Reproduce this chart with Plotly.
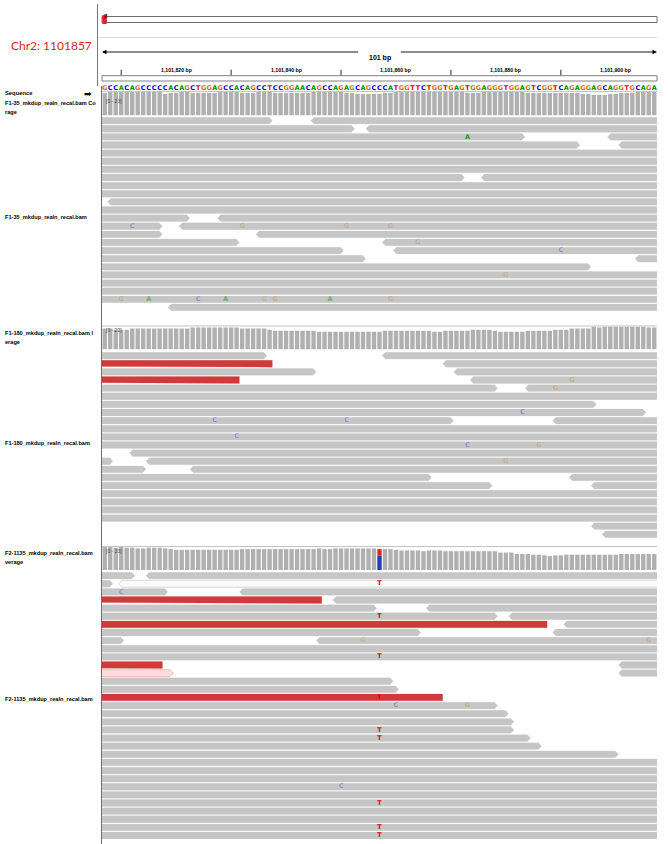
import plotly.graph_objects as go

# ---------------- data ----------------
LOCUS_LABEL = "Chr2: 1101857"
CHROM_NAME = "2"
CHR_LEN = 242193529
LOCUS = 1101857
VIEW_START = 1101807
VIEW_END = 1101907
REF_SEQ = ("GCCACAGCCCCCACAGCTGGAGCCACAGCCTCCGGAACAGCC"
           "AGAGCAGCCCATGGTTCTGGTGAGTGGAGGGTGGAGTCGGTCAGAGGAGCAGGTGCAG"
           "A")
RULER_LABELS = [1101820, 1101840, 1101860, 1101880, 1101900]
RULER_TICKS = [1101810, 1101830, 1101850, 1101870, 1101890]

TRACK_NAMES = ["F1-35_mkdup_realn_recal.bam",
               "F1-180_mkdup_realn_recal.bam",
               "F2-1135_mkdup_realn_recal.bam"]
COV_NAMES = [("F1-35_mkdup_realn_recal.bam Co", "rage"),
             ("F1-180_mkdup_realn_recal.bam I", "erage"),
             ("F2-1135_mkdup_realn_recal.bam", "verage")]

# reads: (row, start, end, strand, kind)  kind: g=gray, r=red (insert), w=MAPQ0, p=MAPQ0 red
F1_35_READS = [
    (0, 1101688, 1101837, '+', 'g'), (0, 1101845, 1101994, '-', 'g'),
    (1, 1101703, 1101852, '+', 'g'), (1, 1101855, 1102004, '-', 'g'),
    (2, 1101734, 1101883, '+', 'g'), (2, 1101899, 1102048, '-', 'g'),
    (3, 1101744, 1101893, '+', 'g'), (3, 1101901, 1102050, '-', 'g'),
    (4, 1101781, 1101930, '+', 'g'),
    (5, 1101770, 1101919, '-', 'g'),
    (6, 1101795, 1101944, '+', 'g'),
    (7, 1101723, 1101872, '+', 'g'), (7, 1101876, 1102025, '-', 'g'),
    (8, 1101762, 1101911, '-', 'g'),
    (9, 1101799, 1101948, '+', 'g'),
    (10, 1101808, 1101957, '-', 'g'),
    (11, 1101785, 1101934, '+', 'g'),
    (12, 1101673, 1101822, '+', 'g'), (12, 1101828, 1101977, '-', 'g'),
    (13, 1101668, 1101817, '+', 'g'), (13, 1101821, 1101970, '-', 'g'),
    (14, 1101668, 1101817, '+', 'g'), (14, 1101835, 1101984, '-', 'g'),
    (15, 1101682, 1101831, '+', 'g'), (15, 1101858, 1102007, '-', 'g'),
    (16, 1101701, 1101850, '+', 'g'), (16, 1101860, 1102009, '-', 'g'),
    (17, 1101705, 1101854, '+', 'g'), (17, 1101904, 1102053, '-', 'g'),
    (18, 1101746, 1101895, '+', 'g'),
    (19, 1101777, 1101926, '-', 'g'),
    (20, 1101790, 1101939, '+', 'g'),
    (21, 1101766, 1101915, '-', 'g'),
    (22, 1101801, 1101950, '+', 'g'),
    (23, 1101819, 1101968, '-', 'g'),
]
# mismatches: (row, position, base, base quality)
F1_35_MISMATCH = [
    (2, 1101873, 'A', 34), (13, 1101812, 'C', 12), (13, 1101832, 'G', 12),
    (13, 1101851, 'G', 12), (13, 1101859, 'G', 12), (15, 1101864, 'G', 12),
    (16, 1101890, 'C', 12), (19, 1101880, 'G', 12), (22, 1101810, 'G', 12),
    (22, 1101815, 'A', 20), (22, 1101824, 'C', 10), (22, 1101829, 'A', 20),
    (22, 1101836, 'G', 12), (22, 1101838, 'G', 12), (22, 1101848, 'A', 20),
    (22, 1101859, 'G', 12),
]

F1_180_READS = [
    (0, 1101687, 1101836, '+', 'g'), (0, 1101858, 1102007, '-', 'g'),
    (1, 1101688, 1101837, '-', 'r'), (1, 1101869, 1102018, '-', 'g'),
    (2, 1101696, 1101845, '+', 'g'), (2, 1101871, 1102020, '-', 'g'),
    (3, 1101682, 1101831, '-', 'r'), (3, 1101874, 1102023, '-', 'g'),
    (4, 1101729, 1101878, '+', 'g'), (4, 1101884, 1102033, '-', 'g'),
    (5, 1101783, 1101932, '+', 'g'),
    (6, 1101747, 1101896, '+', 'g'),
    (7, 1101756, 1101905, '+', 'g'),
    (8, 1101721, 1101870, '+', 'g'), (8, 1101889, 1102038, '-', 'g'),
    (9, 1101772, 1101921, '-', 'g'),
    (10, 1101791, 1101940, '+', 'g'),
    (11, 1101768, 1101917, '-', 'g'),
    (12, 1101812, 1101961, '-', 'g'),
    (13, 1101659, 1101808, '+', 'g'), (13, 1101815, 1101964, '-', 'g'),
    (14, 1101665, 1101814, '+', 'g'), (14, 1101823, 1101972, '-', 'g'),
    (15, 1101717, 1101866, '+', 'g'), (15, 1101892, 1102041, '-', 'g'),
    (16, 1101728, 1101877, '+', 'g'), (16, 1101896, 1102045, '-', 'g'),
    (17, 1101780, 1101929, '+', 'g'),
    (18, 1101764, 1101913, '-', 'g'),
    (19, 1101797, 1101946, '+', 'g'),
    (20, 1101775, 1101924, '-', 'g'),
    (21, 1101896, 1102045, '-', 'g'),
    (22, 1101898, 1102047, '-', 'g'),
]
F1_180_MISMATCH = [
    (3, 1101892, 'G', 12), (4, 1101889, 'G', 12), (7, 1101883, 'C', 12),
    (8, 1101827, 'C', 12), (8, 1101851, 'C', 12), (10, 1101831, 'C', 12),
    (11, 1101873, 'C', 12), (11, 1101886, 'G', 12), (13, 1101880, 'G', 12),
]

F2_1135_READS = [
    (0, 1101663, 1101812, '+', 'g'), (0, 1101815, 1101964, '-', 'g'),
    (1, 1101659, 1101808, '+', 'g'), (1, 1101810, 1101959, '-', 'w'),
    (2, 1101669, 1101818, '+', 'g'), (2, 1101832, 1101981, '-', 'g'),
    (3, 1101697, 1101846, '-', 'r'), (3, 1101849, 1101998, '-', 'g'),
    (4, 1101707, 1101856, '+', 'g'), (4, 1101866, 1102015, '-', 'g'),
    (5, 1101729, 1101878, '+', 'g'), (5, 1101881, 1102030, '-', 'g'),
    (6, 1101738, 1101887, '-', 'r'), (6, 1101891, 1102040, '-', 'g'),
    (7, 1101715, 1101864, '+', 'g'), (7, 1101889, 1102038, '-', 'g'),
    (8, 1101661, 1101810, '+', 'g'), (8, 1101846, 1101995, '-', 'g'),
    (9, 1101779, 1101928, '+', 'g'),
    (10, 1101788, 1101937, '-', 'g'),
    (11, 1101668, 1101817, '-', 'r'), (11, 1101901, 1102050, '-', 'g'),
    (12, 1101670, 1101819, '+', 'p'), (12, 1101901, 1102050, '-', 'g'),
    (13, 1101710, 1101859, '+', 'g'),
    (14, 1101711, 1101860, '+', 'g'),
    (15, 1101719, 1101868, '-', 'r'),
    (16, 1101729, 1101878, '+', 'g'),
    (17, 1101731, 1101880, '+', 'g'),
    (18, 1101732, 1101881, '+', 'g'),
    (19, 1101732, 1101881, '+', 'g'),
    (20, 1101735, 1101884, '+', 'g'),
    (21, 1101737, 1101886, '+', 'g'),
    (22, 1101751, 1101900, '+', 'g'),
    (23, 1101770, 1101919, '-', 'g'),
    (24, 1101784, 1101933, '+', 'g'),
    (25, 1101762, 1101911, '-', 'g'),
    (26, 1101793, 1101942, '+', 'g'),
    (27, 1101776, 1101925, '-', 'g'),
    (28, 1101798, 1101947, '+', 'g'),
    (29, 1101767, 1101916, '-', 'g'),
    (30, 1101786, 1101935, '+', 'g'),
    (31, 1101773, 1101922, '-', 'g'),
    (32, 1101795, 1101944, '+', 'g'),
]
F2_1135_MISMATCH = [
    (1, 1101857, 'T', 40), (5, 1101857, 'T', 40), (10, 1101857, 'T', 40),
    (15, 1101857, 'T', 40), (19, 1101857, 'T', 40), (20, 1101857, 'T', 40),
    (28, 1101857, 'T', 40), (31, 1101857, 'T', 40), (32, 1101857, 'T', 40),
    (2, 1101810, 'C', 10), (8, 1101854, 'G', 12), (8, 1101906, 'G', 12),
    (16, 1101860, 'C', 12), (16, 1101873, 'G', 12), (26, 1101850, 'C', 12),
]

# ---------------- styling / layout constants ----------------
FIG_W, FIG_H = 669, 844
X0_PX, X1_PX = 102, 657
ROW_PX = 8.12
READ_TOP_PX = [116.6, 351.6, 571.6]
COV_BOX_PX = [(92.0, 115.5), (326.5, 349.5), (547.0, 570.0)]
READ_STYLE = {
    'g': ('rgb(198,198,198)', None),
    'r': ('rgb(207,58,58)', None),
    'w': ('rgb(250,250,250)', 'rgb(200,200,200)'),
    'p': ('rgb(249,222,222)', 'rgb(232,170,170)'),
}
BASE_RGB = {'A': (0, 150, 0), 'C': (0, 0, 230), 'G': (209, 113, 5), 'T': (235, 0, 0)}
COV_GRAY = 'rgb(176,176,176)'
COV_BASE = {'A': 'rgb(0,150,0)', 'C': 'rgb(35,65,175)', 'G': 'rgb(209,113,5)', 'T': 'rgb(228,38,38)'}
LABEL_FONT = "Liberation Sans"


def pyf(y):
    return 1 - y / FIG_H


def pxf(x):
    return x / FIG_W


def dom(top, bottom):
    return [pyf(bottom), pyf(top)]


def mm_color(base, q):
    a = max(0.3, min(1.0, q / 40.0))
    r, g, b = BASE_RGB[base]
    return f'rgba({r},{g},{b},{a:.2f})'


fig = go.Figure()
layout = dict(
    width=FIG_W, height=FIG_H, margin=dict(l=0, r=0, t=0, b=0),
    paper_bgcolor='white', plot_bgcolor='white', showlegend=False,
    barmode='overlay',
    xaxis=dict(domain=[pxf(X0_PX), pxf(X1_PX)],
               range=[VIEW_START - 0.5, VIEW_END + 0.5],
               visible=False, fixedrange=True),
)
annotations = []
shapes = []

panels = [(F1_35_READS, F1_35_MISMATCH), (F1_180_READS, F1_180_MISMATCH),
          (F2_1135_READS, F2_1135_MISMATCH)]
HALF = 0.42
TIP = 0.6
positions = list(range(VIEW_START, VIEW_END + 1))

for k, (reads, mism) in enumerate(panels):
    yname = 'y' if k == 0 else f'y{k + 1}'
    lname = 'yaxis' if k == 0 else f'yaxis{k + 1}'
    nrows = max(r[0] for r in reads) + 1
    top = READ_TOP_PX[k]
    bottom = top + nrows * ROW_PX
    layout[lname] = dict(domain=dom(top, bottom), range=[nrows - 0.5, -0.5],
                         visible=False, anchor='x', fixedrange=True)
    for kind, (fill, line) in READ_STYLE.items():
        xs, ys = [], []
        for row, s, e, strand, kd in reads:
            if kd != kind:
                continue
            x0, x1 = s - 0.5, e + 0.5
            if strand == '+':
                pts = [(x0, row - HALF), (x1 - TIP, row - HALF), (x1, row),
                       (x1 - TIP, row + HALF), (x0, row + HALF), (x0, row - HALF)]
            else:
                pts = [(x0 + TIP, row - HALF), (x1, row - HALF), (x1, row + HALF),
                       (x0 + TIP, row + HALF), (x0, row), (x0 + TIP, row - HALF)]
            for a, b in pts:
                xs.append(a)
                ys.append(b)
            xs.append(None)
            ys.append(None)
        if not xs:
            continue
        fig.add_trace(go.Scatter(
            x=xs, y=ys, xaxis='x', yaxis=yname, mode='lines', fill='toself',
            fillcolor=fill,
            line=dict(color=line or fill, width=0.7 if line else 0.2),
            hoverinfo='skip'))
    fig.add_trace(go.Scatter(
        x=[m[1] for m in mism], y=[m[0] for m in mism], mode='text',
        text=[m[2] for m in mism], xaxis='x', yaxis=yname,
        textfont=dict(family='DejaVu Sans', size=6.5,
                      color=[mm_color(m[2], m[3]) for m in mism], weight='bold'),
        hoverinfo='skip'))

    # coverage track
    cname = f'y{k + 4}'
    clname = f'yaxis{k + 4}'
    total = [sum(1 for r in reads if r[1] <= p <= r[2]) for p in positions]
    cmax = max(total)
    ctop, cbot = COV_BOX_PX[k]
    layout[clname] = dict(domain=dom(ctop, cbot), range=[0, cmax],
                          visible=False, anchor='x', fixedrange=True)
    gray_y = []
    split = {}
    for i, p in enumerate(positions):
        ref = REF_SEQ[i]
        counts = {'A': 0, 'C': 0, 'G': 0, 'T': 0}
        for m in mism:
            if m[1] == p:
                counts[m[2]] += 1
        alt = sum(counts.values())
        counts[ref] += total[i] - alt
        if total[i] and max(v for b, v in counts.items() if b != ref) / total[i] > 0.2:
            split[p] = counts
            gray_y.append(0)
        else:
            gray_y.append(total[i])
    fig.add_trace(go.Bar(x=positions, y=gray_y, width=0.8, marker_color=COV_GRAY,
                         marker_line_width=0, xaxis='x', yaxis=cname, hoverinfo='skip'))
    for p, counts in split.items():
        base = 0
        for b in ['A', 'C', 'G', 'T']:
            if counts[b] == 0:
                continue
            fig.add_trace(go.Bar(x=[p], y=[counts[b]], base=[base], width=0.8,
                                 marker_color=COV_BASE[b], marker_line_width=0,
                                 xaxis='x', yaxis=cname, hoverinfo='skip'))
            base += counts[b]
    annotations.append(dict(x=pxf(X0_PX + 2), y=pyf(ctop + 3.5), xref='paper', yref='paper',
                            text=f"[0 - {cmax}]", showarrow=False, xanchor='left',
                            font=dict(size=5, color='rgb(70,70,70)', family=LABEL_FONT)))
    shapes.append(dict(type='line', xref='paper', yref='paper', x0=pxf(X0_PX), x1=pxf(X1_PX),
                       y0=pyf(ctop - 0.5), y1=pyf(ctop - 0.5),
                       line=dict(color='rgb(195,195,195)', width=1)))
    # track labels
    l1, l2 = COV_NAMES[k]
    annotations.append(dict(x=pxf(3), y=pyf(ctop + 6), xref='paper', yref='paper',
                            text=f"<b>{l1}</b>", showarrow=False, xanchor='left',
                            font=dict(size=5.6, color='black', family=LABEL_FONT)))
    annotations.append(dict(x=pxf(3), y=pyf(ctop + 15), xref='paper', yref='paper',
                            text=f"<b>{l2}</b>", showarrow=False, xanchor='left',
                            font=dict(size=5.6, color='black', family=LABEL_FONT)))
    annotations.append(dict(x=pxf(3), y=pyf((top + bottom) / 2 - 2), xref='paper', yref='paper',
                            text=f"<b>{TRACK_NAMES[k]}</b>", showarrow=False, xanchor='left',
                            font=dict(size=5.6, color='black', family=LABEL_FONT)))

# reference sequence
layout['yaxis7'] = dict(domain=dom(84, 92), range=[0, 1], visible=False,
                        anchor='x', fixedrange=True)
fig.add_trace(go.Scatter(
    x=positions, y=[0.5] * len(positions), mode='text', text=list(REF_SEQ[:len(positions)]),
    textfont=dict(family='DejaVu Sans', size=6.5, weight='bold',
                  color=[f'rgb{BASE_RGB[b]}' for b in REF_SEQ[:len(positions)]]),
    xaxis='x', yaxis='y7', hoverinfo='skip'))
annotations.append(dict(x=pxf(3), y=pyf(88), xref='paper', yref='paper', text="<b>Sequence</b>",
                        showarrow=False, xanchor='left',
                        font=dict(size=5.8, color='black', family=LABEL_FONT)))
annotations.append(dict(x=pxf(88), y=pyf(87.5), xref='paper', yref='paper', text="➡",
                        showarrow=False, xanchor='center',
                        font=dict(size=9, color='black', family='DejaVu Sans')))

# ruler ticks
layout['yaxis8'] = dict(domain=dom(69.5, 75.7), range=[0, 1], visible=False,
                        anchor='x', fixedrange=True)
tx, ty = [], []
for t in RULER_TICKS:
    tx += [t, t, None]
    ty += [0, 1, None]
fig.add_trace(go.Scatter(x=tx, y=ty, mode='lines', line=dict(color='rgb(40,40,40)', width=1),
                         xaxis='x', yaxis='y8', hoverinfo='skip'))
for v in RULER_LABELS:
    annotations.append(dict(x=v, y=pyf(64.5), xref='x', yref='paper', text=f"<b>{v:,} bp</b>",
                            showarrow=False, xanchor='center',
                            font=dict(size=5.2, color='black', family=LABEL_FONT)))

# span arrow
span_bp = VIEW_END - VIEW_START + 1
annotations.append(dict(x=LOCUS, y=pyf(52), xref='x', yref='paper', text=f"<b>{span_bp} bp</b>",
                        showarrow=False, xanchor='center',
                        font=dict(size=7, color='black', family=LABEL_FONT)))
for head, tail in [(VIEW_START - 0.5, LOCUS - 3.6), (VIEW_END + 0.5, LOCUS + 3.6)]:
    annotations.append(dict(x=head, y=pyf(52), xref='x', yref='paper', ax=tail, ay=0,
                            axref='x', ayref='pixel', text="", showarrow=True, arrowhead=2,
                            arrowsize=1, arrowwidth=0.9, arrowcolor='black'))

# header: locus label, ideogram
annotations.append(dict(x=pxf(51), y=pyf(45), xref='paper', yref='paper', text=LOCUS_LABEL,
                        showarrow=False, xanchor='center', yanchor='middle',
                        font=dict(size=12, color='rgb(215,40,40)', family='Lato')))
annotations.append(dict(x=pxf(102), y=pyf(11), xref='paper', yref='paper', text=f"<b>{CHROM_NAME}</b>",
                        showarrow=False, xanchor='left',
                        font=dict(size=6, color='black', family=LABEL_FONT)))
shapes.append(dict(type='rect', xref='paper', yref='paper', x0=pxf(X0_PX), x1=pxf(X1_PX),
                   y0=pyf(22.5), y1=pyf(16.5), line=dict(color='rgb(110,110,110)', width=1),
                   fillcolor='white'))
cx = X0_PX + (LOCUS / CHR_LEN) * (X1_PX - X0_PX)
shapes.append(dict(type='rect', xref='paper', yref='paper', x0=pxf(cx - 1.8), x1=pxf(cx + 1.8),
                   y0=pyf(23.5), y1=pyf(15.5), line=dict(color='rgb(220,40,40)', width=1),
                   fillcolor='rgb(220,40,40)'))
shapes.append(dict(type='line', xref='paper', yref='paper', x0=pxf(98), x1=pxf(X1_PX),
                   y0=pyf(37.5), y1=pyf(37.5), line=dict(color='rgb(218,218,218)', width=1)))
shapes.append(dict(type='rect', xref='paper', yref='paper', x0=pxf(X0_PX), x1=pxf(X1_PX),
                   y0=pyf(81), y1=pyf(75.7), line=dict(color='rgb(130,130,130)', width=1)))
shapes.append(dict(type='line', xref='paper', yref='paper', x0=pxf(97.5), x1=pxf(97.5),
                   y0=pyf(4), y1=pyf(86), line=dict(color='rgb(120,120,120)', width=1)))
shapes.append(dict(type='line', xref='paper', yref='paper', x0=pxf(101.5), x1=pxf(101.5),
                   y0=pyf(86), y1=pyf(FIG_H), line=dict(color='rgb(110,110,110)', width=1)))

layout['annotations'] = annotations
layout['shapes'] = shapes
fig.update_layout(**layout)

fig.write_html("out.html", config={'displayModeBar': False},
               post_script="document.body.style.margin='0';")
